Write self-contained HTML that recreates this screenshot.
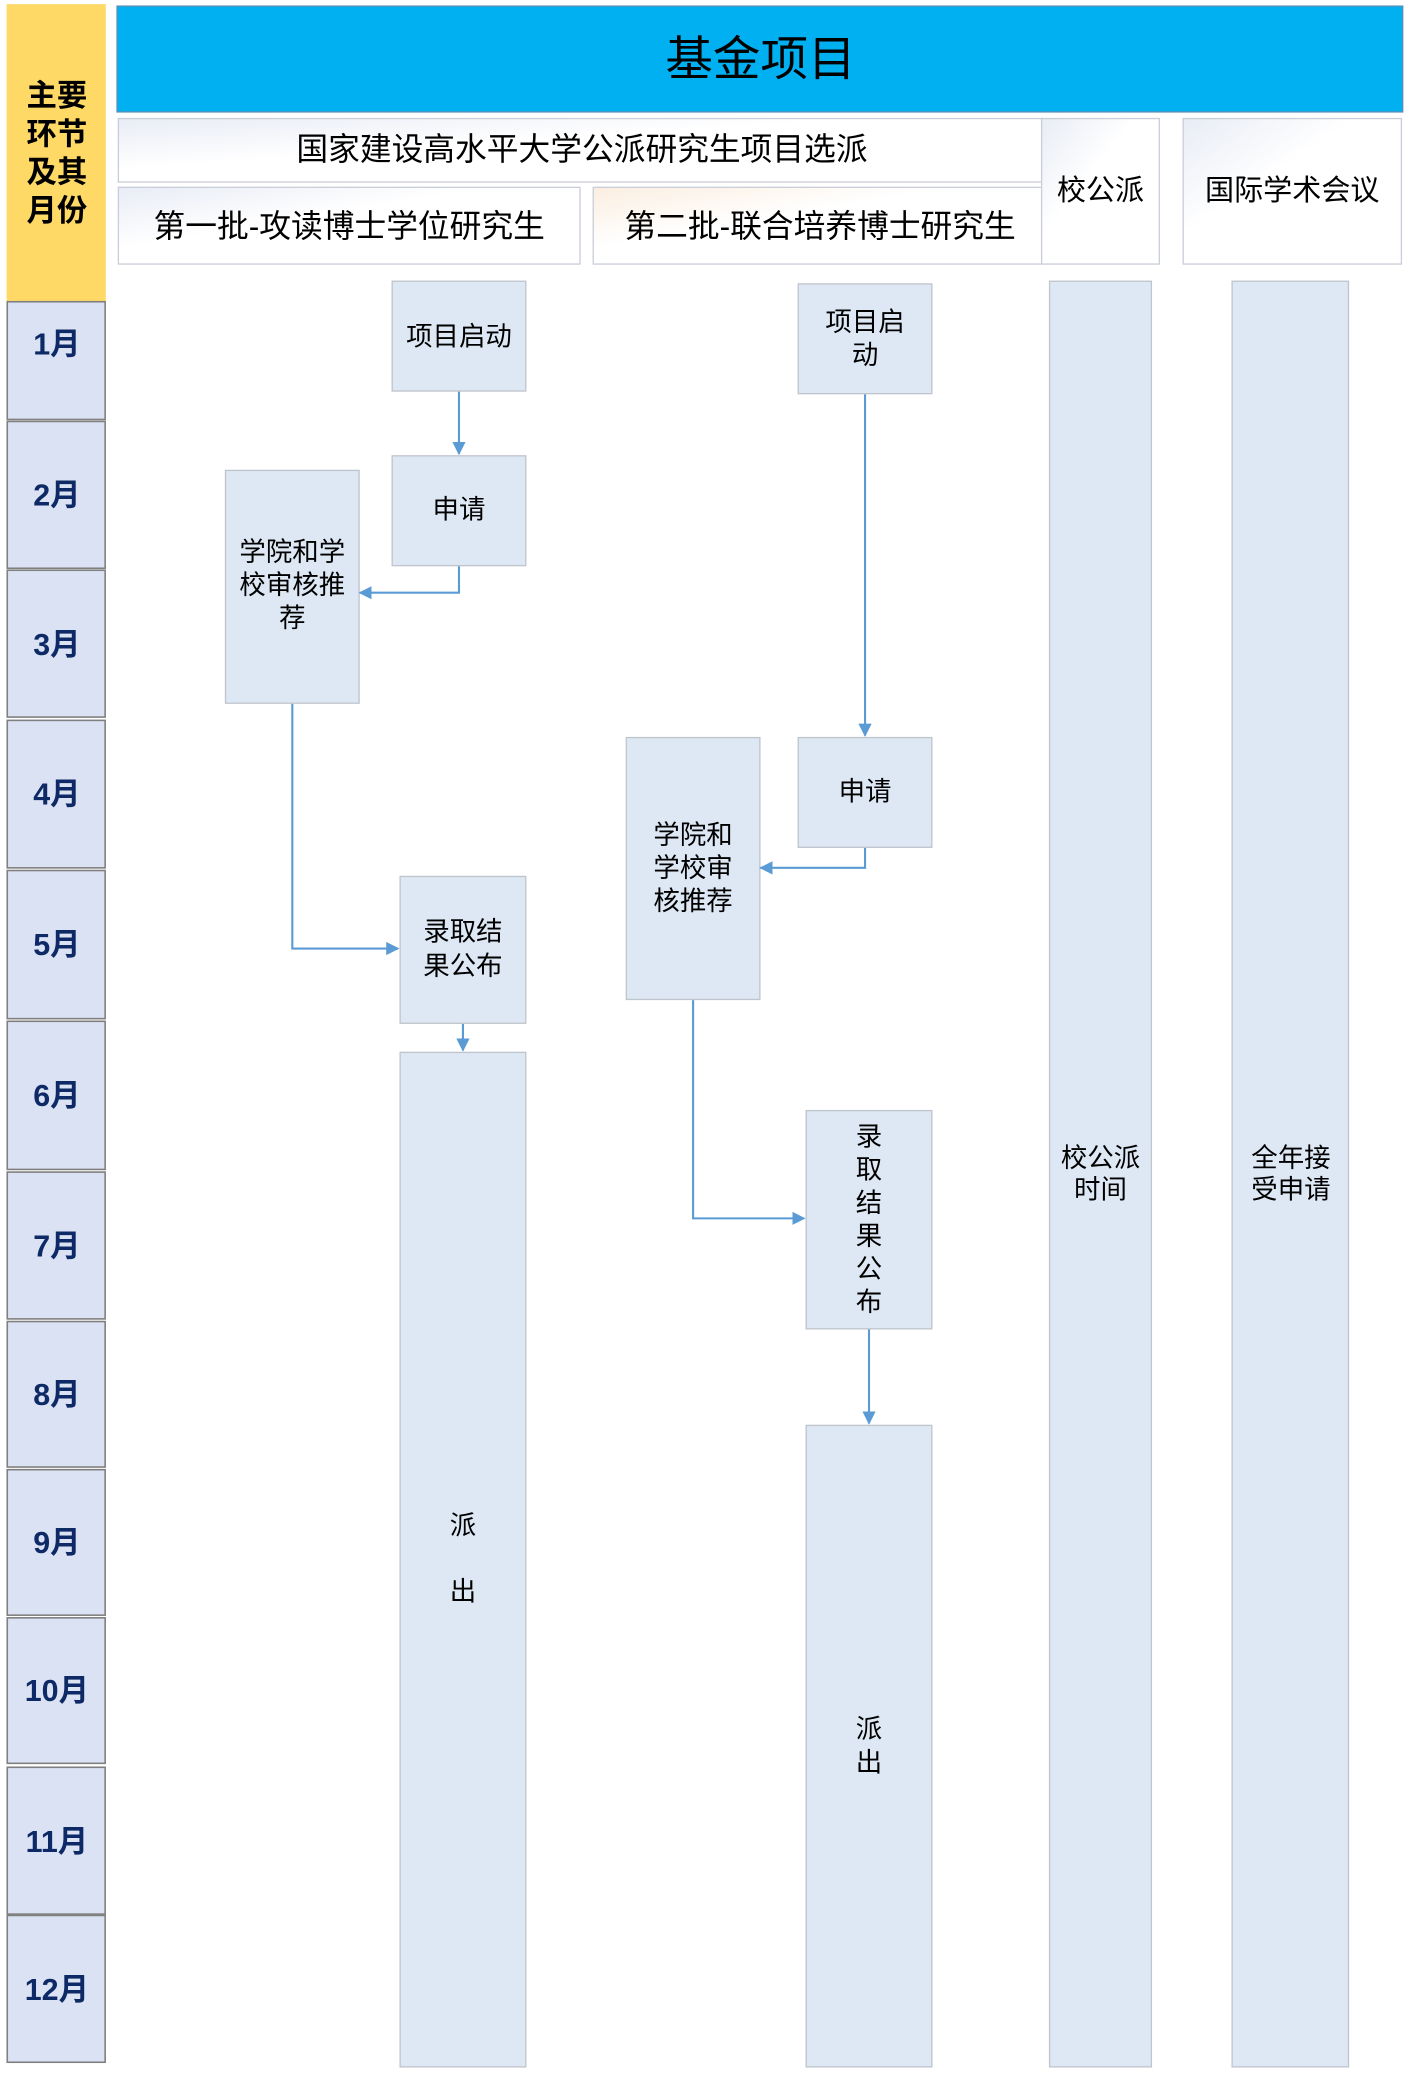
<!DOCTYPE html>
<html><head><meta charset="utf-8"><style>
html,body{margin:0;padding:0;background:#fff;}
svg{display:block;}
text{font-family:"Liberation Sans","Noto Sans CJK SC",sans-serif;fill:#000;}
</style></head><body>
<svg width="1410" height="2073" viewBox="0 0 1066 1567" xmlns="http://www.w3.org/2000/svg">
<defs>
<marker id="a" markerWidth="10" markerHeight="10" refX="9" refY="5" orient="auto" markerUnits="userSpaceOnUse"><path d="M0,0 L10,5 L0,10 z" fill="#5b9bd5"/></marker>
<linearGradient id="g1" x1="0" y1="0" x2="1" y2="1"><stop offset="0" stop-color="#e8ecf5"/><stop offset="0.4" stop-color="#fff"/></linearGradient>
<linearGradient id="g2" x1="0" y1="0" x2="1" y2="1"><stop offset="0" stop-color="#fbeee0"/><stop offset="0.4" stop-color="#fff"/></linearGradient>
</defs>
<rect x="5" y="3" width="75" height="225" fill="#fed966"/>
<g font-weight="bold" font-size="23" text-anchor="middle">
<text x="43" y="80">主要</text><text x="43" y="109">环节</text><text x="43" y="138">及其</text><text x="43" y="167">月份</text>
</g>
<g fill="#dbe2f3" stroke="#7f7f7f" stroke-width="1.2">
<rect x="5.5" y="228" width="74" height="89"/>
<rect x="5.5" y="318.5" width="74" height="111"/>
<rect x="5.5" y="431" width="74" height="111"/>
<rect x="5.5" y="544.5" width="74" height="111.5"/>
<rect x="5.5" y="658" width="74" height="112"/>
<rect x="5.5" y="772" width="74" height="112"/>
<rect x="5.5" y="886" width="74" height="111"/>
<rect x="5.5" y="999" width="74" height="110"/>
<rect x="5.5" y="1111" width="74" height="110"/>
<rect x="5.5" y="1223" width="74" height="110"/>
<rect x="5.5" y="1336" width="74" height="111"/>
<rect x="5.5" y="1448" width="74" height="111"/>
</g>
<g font-weight="bold" font-size="23" text-anchor="middle">
<text x="43" y="268" style="fill:#0e2a66">1月</text>
<text x="43" y="382" style="fill:#0e2a66">2月</text>
<text x="43" y="495" style="fill:#0e2a66">3月</text>
<text x="43" y="608" style="fill:#0e2a66">4月</text>
<text x="43" y="722" style="fill:#0e2a66">5月</text>
<text x="43" y="836" style="fill:#0e2a66">6月</text>
<text x="43" y="950" style="fill:#0e2a66">7月</text>
<text x="43" y="1062" style="fill:#0e2a66">8月</text>
<text x="43" y="1174" style="fill:#0e2a66">9月</text>
<text x="43" y="1286" style="fill:#0e2a66">10月</text>
<text x="43" y="1400" style="fill:#0e2a66">11月</text>
<text x="43" y="1512" style="fill:#0e2a66">12月</text>
</g>
<rect x="88.5" y="4.5" width="972" height="80" fill="#00b0f0" stroke="#5a8fb8" stroke-width="1"/>
<text x="575" y="57" font-size="36" text-anchor="middle">基金项目</text>
<rect x="89.5" y="89.5" width="698" height="48" fill="url(#g1)" stroke="#c9ced8"/>
<text x="440" y="121" font-size="24" text-anchor="middle">国家建设高水平大学公派研究生项目选派</text>
<rect x="89.5" y="141.5" width="349" height="58" fill="url(#g1)" stroke="#c9ced8"/>
<text x="264" y="179" font-size="24" text-anchor="middle">第一批-攻读博士学位研究生</text>
<rect x="448.5" y="141.5" width="339" height="58" fill="url(#g2)" stroke="#c9ced8"/>
<text x="620" y="179" font-size="24" text-anchor="middle">第二批-联合培养博士研究生</text>
<rect x="787.5" y="89.5" width="89" height="110" fill="url(#g1)" stroke="#c9ced8"/>
<text x="832" y="151" font-size="22" text-anchor="middle">校公派</text>
<rect x="894.5" y="89.5" width="165" height="110" fill="url(#g1)" stroke="#c9ced8"/>
<text x="977" y="151" font-size="22" text-anchor="middle">国际学术会议</text>
<g fill="#dde8f4" stroke="#c0c4cc" stroke-width="1">
<rect x="296.5" y="212.5" width="101" height="83"/>
<rect x="296.5" y="344.5" width="101" height="83"/>
<rect x="170.5" y="355.5" width="101" height="176"/>
<rect x="302.5" y="662.5" width="95" height="111"/>
<rect x="302.5" y="795.5" width="95" height="767"/>
<rect x="603.5" y="214.5" width="101" height="83"/>
<rect x="603.5" y="557.5" width="101" height="83"/>
<rect x="473.5" y="557.5" width="101" height="198"/>
<rect x="609.5" y="839.5" width="95" height="165"/>
<rect x="609.5" y="1077.5" width="95" height="485"/>
<rect x="793.5" y="212.5" width="77" height="1350"/>
<rect x="931.5" y="212.5" width="88" height="1350"/>
</g>
<g font-size="20" text-anchor="middle">
<text x="347" y="261">项目启动</text>
<text x="347" y="392">申请</text>
<text x="221" y="424">学院和学</text><text x="221" y="449">校审核推</text><text x="221" y="474">荐</text>
<text x="350" y="711">录取结</text><text x="350" y="737">果公布</text>
<text x="350" y="1160">派</text><text x="350" y="1210">出</text>
<text x="654" y="250">项目启</text><text x="654" y="275">动</text>
<text x="654" y="605">申请</text>
<text x="524" y="638">学院和</text><text x="524" y="663">学校审</text><text x="524" y="688">核推荐</text>
<text x="657" y="866">录</text><text x="657" y="891">取</text><text x="657" y="916">结</text><text x="657" y="941">果</text><text x="657" y="966">公</text><text x="657" y="991">布</text>
<text x="657" y="1314">派</text><text x="657" y="1339">出</text>
<text x="832" y="882">校公派</text><text x="832" y="906">时间</text>
<text x="976" y="882">全年接</text><text x="976" y="906">受申请</text>
</g>
<g stroke="#5b9bd5" stroke-width="1.6" fill="none">
<path d="M347,296 V343" marker-end="url(#a)"/>
<path d="M347,428 V448 H272" marker-end="url(#a)"/>
<path d="M221,532 V717 H301" marker-end="url(#a)"/>
<path d="M350,774 V794" marker-end="url(#a)"/>
<path d="M654,298 V556" marker-end="url(#a)"/>
<path d="M654,641 V656 H575" marker-end="url(#a)"/>
<path d="M524,756 V921 H608" marker-end="url(#a)"/>
<path d="M657,1005 V1076" marker-end="url(#a)"/>
</g>
</svg>
</body></html>
